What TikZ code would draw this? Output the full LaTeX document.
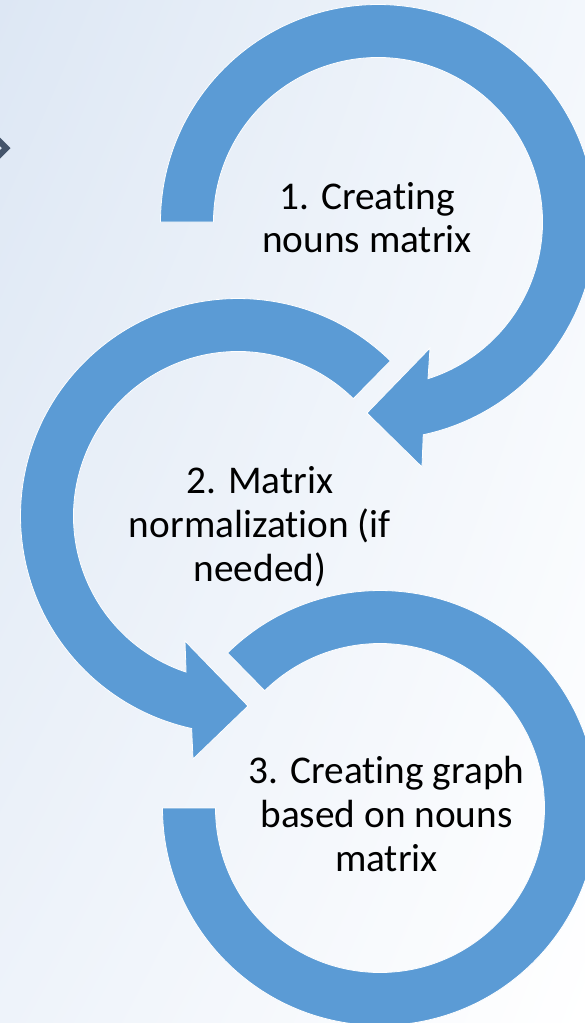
\documentclass[tikz,border=0pt]{standalone}
\usepackage{fontspec}
\usetikzlibrary{shadings}
\setmainfont{Carlito}[Ligatures={NoCommon}]
\definecolor{arrowblue}{HTML}{5B9BD5}
\definecolor{slate}{HTML}{44546A}
\definecolor{bgUL}{HTML}{DDE7F4}
\definecolor{bgUR}{HTML}{F3F7FC}
\definecolor{bgLL}{HTML}{EEF3FA}
\begin{document}
\begin{tikzpicture}[x=1pt,y=1pt,
  cyc/.style={fill=arrowblue, draw=white, line width=0.8pt, line join=miter},
  lbl/.style={align=center, font=\fontsize{39.3}{43.7}\selectfont, inner sep=0pt, anchor=base, text=black}]
\useasboundingbox (0,0) rectangle (585,-1023);
\clip (0,0) rectangle (585,-1023);
\shade[upper left=bgUL, upper right=bgUR, lower left=bgLL, lower right=white] (0,0) rectangle (585,-1023);
% chevron at left edge
\fill[slate] (0,-137.5) -- (10.5,-148) -- (0,-158.5) -- (0,-150) -- (2,-148) -- (0,-146) -- cycle;
\coordinate (c1) at (378,-222);
\coordinate (c2) at (238,-516);
\coordinate (c3) at (380,-808);
% circular arrow 1
\path[cyc] ([shift={(180:217.5)}]c1) arc[start angle=180, end angle=-78, radius=217.5]
  -- (422,-467) -- (367,-413) -- (430,-348)
  -- ([shift={(-72.3:164.5)}]c1) arc[start angle=-72.3, end angle=180, radius=164.5] -- cycle;
% circular arrow 2
\path[cyc] ([shift={(45.5:217.5)}]c2) arc[start angle=45.5, end angle=257.7, radius=217.5]
  -- (193,-759) -- (248,-706) -- (185,-641)
  -- ([shift={(251.6:164.5)}]c2) arc[start angle=251.6, end angle=45.5, radius=164.5] -- cycle;
% circular arc 3
\path[cyc] ([shift={(134.5:217.5)}]c3) arc[start angle=134.5, end angle=-180, radius=217.5]
  -- ([shift={(180:164.5)}]c3) arc[start angle=-180, end angle=134.5, radius=164.5] -- cycle;
\node[lbl] (t1) at (367,-252.7) {1. Creating\\nouns matrix};
\node[lbl] (t2) at (260,-581) {2. Matrix\\normalization (if\\needed)};
\node[lbl] (t3) at (386.5,-871) {3. Creating graph\\based on nouns\\matrix};
\end{tikzpicture}
\end{document}
